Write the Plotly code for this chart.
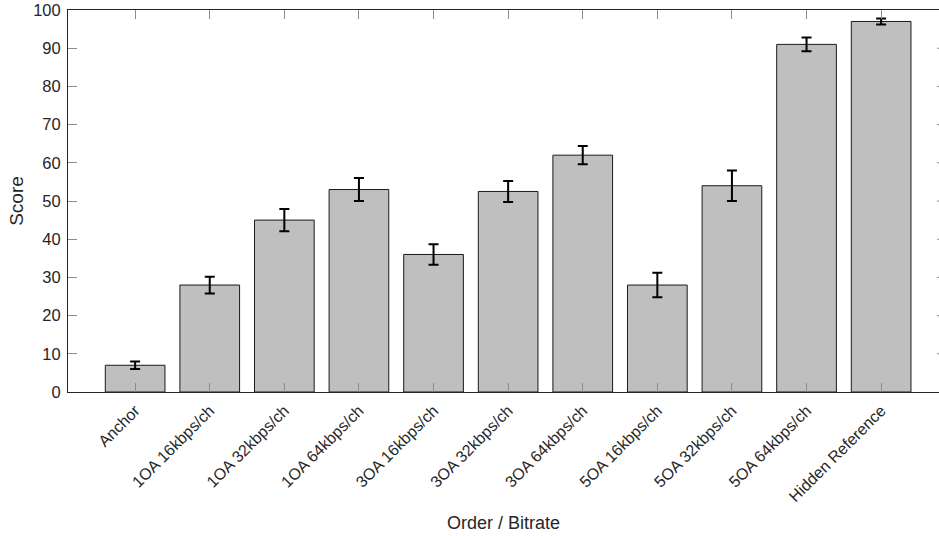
import plotly.graph_objects as go

# Listening-test scores per condition (mean and confidence half-width)
conditions = [
    "Anchor", "1OA 16kbps/ch", "1OA 32kbps/ch", "1OA 64kbps/ch",
    "3OA 16kbps/ch", "3OA 32kbps/ch", "3OA 64kbps/ch",
    "5OA 16kbps/ch", "5OA 32kbps/ch", "5OA 64kbps/ch", "Hidden Reference",
]
mean_score = [7, 28, 45, 53, 36, 52.5, 62, 28, 54, 91, 97]
ci_half = [1.0, 2.2, 2.9, 3.0, 2.7, 2.75, 2.4, 3.2, 4.0, 1.8, 0.8]
y_ticks = [0, 10, 20, 30, 40, 50, 60, 70, 80, 90, 100]

positions = list(range(1, len(conditions) + 1))

fig = go.Figure()
fig.add_trace(go.Bar(
    x=positions,
    y=mean_score,
    width=0.8,
    marker=dict(color="#bfbfbf", line=dict(color="#1a1a1a", width=1)),
    error_y=dict(type="data", array=ci_half, visible=True,
                 color="black", thickness=2, width=5),
    showlegend=False,
    hoverinfo="x+y",
))

font_color = "#262626"
fig.update_layout(
    width=939, height=536,
    margin=dict(l=68, r=0, t=10, b=144),
    paper_bgcolor="white", plot_bgcolor="white",
    font=dict(family="Liberation Sans, Arial, sans-serif", size=16, color=font_color),
    bargap=0.2,
)
fig.update_xaxes(
    range=[0.1, 0.1 + 871 / 74.6],
    tickmode="array", tickvals=positions, ticktext=conditions,
    tickangle=-45,
    ticks="inside", ticklen=9, tickwidth=1, tickcolor="#8c8c8c",
    showline=True, linecolor=font_color, linewidth=1, mirror="ticks",
    showgrid=False, zeroline=False,
    tickfont=dict(size=16, color=font_color),
    ticklabelstandoff=2,
    title=dict(text="Order / Bitrate", font=dict(size=18, color=font_color), standoff=12),
)
fig.update_yaxes(
    range=[0, 100],
    tickmode="array", tickvals=y_ticks,
    ticks="inside", ticklen=9, tickwidth=1, tickcolor="#8c8c8c",
    showline=True, linecolor=font_color, linewidth=1, mirror=False,
    showgrid=False, zeroline=False,
    tickfont=dict(size=16.5, color=font_color),
    ticklabelstandoff=3,
    title=dict(text="Score", font=dict(size=19, color=font_color), standoff=4),
)

# small tick stubs along the right edge of the axes box
for v in y_ticks[1:-1]:
    fig.add_shape(type="line", xref="paper", yref="y",
                  x0=1 - 2 / 871, x1=1, y0=v, y1=v,
                  line=dict(color="#8c8c8c", width=1))

fig.write_html("out.html")
